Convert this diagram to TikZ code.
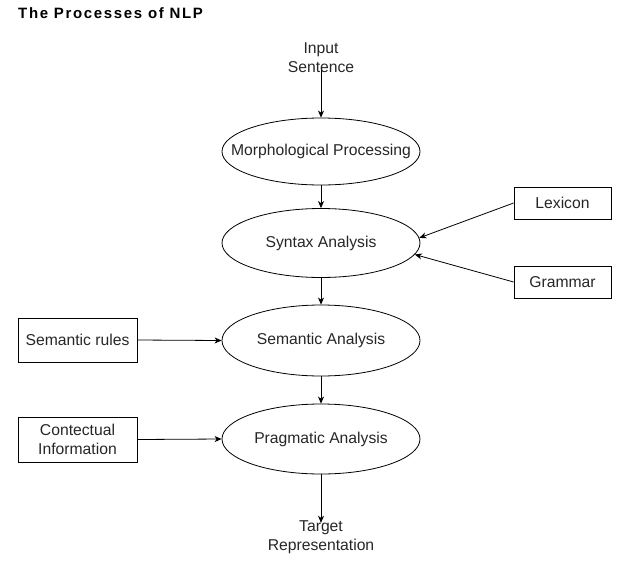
\documentclass[tikz,border=0pt]{standalone}
\usepackage{fontspec}
\setmainfont{Liberation Sans}
\usetikzlibrary{shapes.geometric,arrows.meta}
\newcommand{\ctext}[1]{\makebox[0pt]{#1}}
\begin{document}
\begin{tikzpicture}[x=1pt,y=-1pt,
  every node/.style={font=\fontsize{15.7}{19}\selectfont, text=black!85},
  proc/.style={ellipse, draw, line width=0.8pt, minimum width=198pt, minimum height=69pt, inner sep=0pt},
  srcbox/.style={rectangle, draw, line width=0.8pt, inner sep=0pt, align=center},
  plain/.style={align=center, inner sep=0pt},
  conn/.style={draw, line width=0.8pt, -{Stealth[length=7pt,width=6pt,inset=2pt]}}]
\useasboundingbox (0,0) rectangle (623,560);
\node[anchor=west, inner sep=0pt, font=\fontsize{15}{17}\addfontfeatures{LetterSpace=11}\bfseries, text=black] (title) at (18,13) {The Processes of NLP};
\node[plain] (inp) at (321,57.5) {Input\\Sentence};
\node[proc, minimum height=67pt] (morph) at (321,151.5) {\ctext{Morphological Processing}};
\node[proc] (syn) at (321,243) {\ctext{Syntax Analysis}};
\node[proc, minimum height=71pt] (sem) at (321,340.5) {\ctext{Semantic Analysis}};
\node[proc, minimum height=70pt] (prag) at (321,439) {\ctext{Pragmatic Analysis}};
\node[plain] (tgt) at (321,537.5) {Target\\Representation};
\node[srcbox, minimum width=97pt, minimum height=32pt] (lex) at (562.5,203) {Lexicon};
\node[srcbox, minimum width=97pt, minimum height=32pt] (gram) at (562.5,282) {Grammar};
\node[srcbox, minimum width=119pt, minimum height=44pt] (rules) at (77.5,340) {Semantic rules};
\node[srcbox, minimum width=119pt, minimum height=45pt] (ctx) at (77.5,439.5) {Contectual\\Information};
\draw[conn] ([yshift=3pt]inp.south) -- (morph.north);
\draw[conn] (morph.south) -- (syn.north);
\draw[conn] (syn.south) -- (sem.north);
\draw[conn] (sem.south) -- (prag.north);
\draw[conn] (prag.south) -- ([yshift=-2pt]tgt.north);
\draw[conn] (lex.west) -- (syn.3);
\draw[conn] (gram.west) -- (syn.-7);
\draw[conn] (rules.east) -- (sem.west);
\draw[conn] (ctx.east) -- (prag.west);
\end{tikzpicture}
\end{document}
